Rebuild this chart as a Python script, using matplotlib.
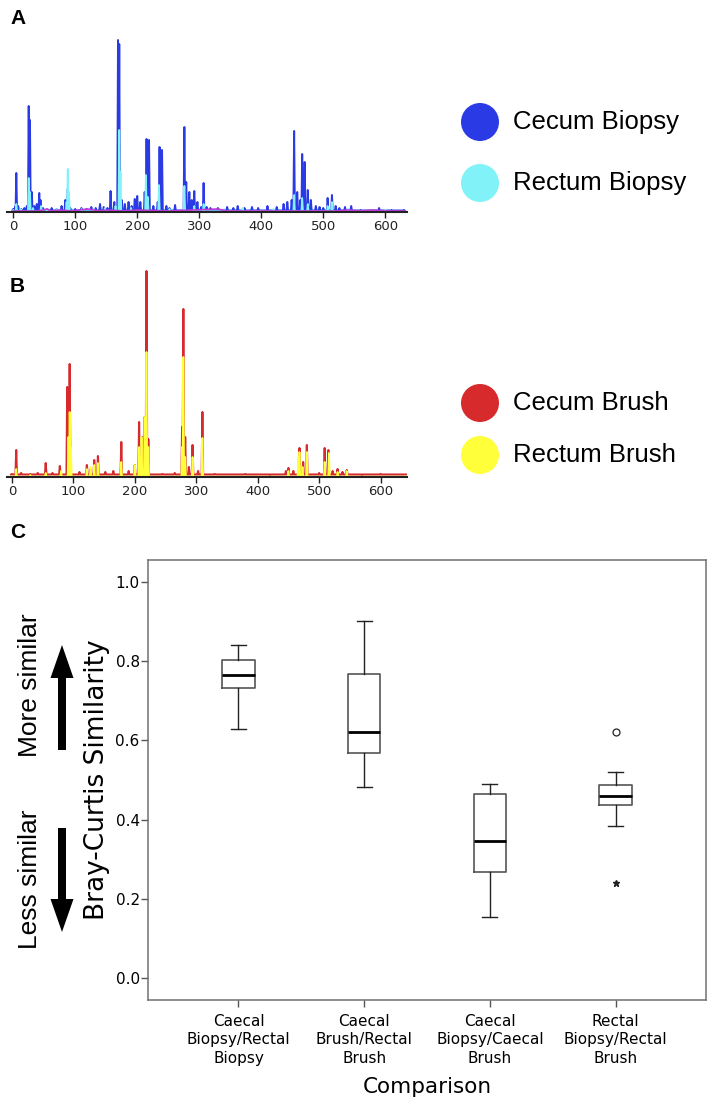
import matplotlib.pyplot as plt
from matplotlib.patches import Circle, FancyArrow

# ---------------- panel A : biopsy profiles (peak position, peak height) ----------------
cecum_biopsy_pos = [0, 3, 5, 8, 13, 18, 22, 25, 27, 30, 34, 38, 42, 44, 48, 55, 62, 70, 78, 84, 88,
                    92, 100, 110, 118, 126, 133, 140, 146, 152, 157, 163, 169, 171, 175, 180, 186,
                    191, 196, 200, 205, 212, 215, 219, 226, 233, 236, 240, 247, 252, 261, 276, 279,
                    284, 288, 292, 297, 303, 307, 312, 318, 330, 345, 355, 362, 373, 385, 395, 410,
                    425, 436, 442, 449, 453, 458, 463, 466, 470, 475, 480, 488, 494, 500, 507, 514,
                    520, 526, 535, 545, 560, 590, 610, 630]
cecum_biopsy_h = [3, 5, 39, 6, 3, 4, 6, 106, 92, 20, 6, 8, 19, 12, 4, 3, 4, 3, 6, 12, 23,
                  4, 3, 4, 3, 5, 4, 8, 5, 4, 21, 10, 172, 168, 12, 8, 10,
                  6, 13, 16, 10, 20, 73, 72, 6, 10, 65, 62, 6, 4, 7, 85, 30,
                  20, 12, 21, 10, 5, 29, 5, 4, 4, 5, 4, 6, 4, 5, 4, 6,
                  5, 8, 10, 12, 81, 20, 12, 58, 50, 22, 12, 6, 5, 4, 14, 17,
                  6, 4, 5, 6, 2, 4, 2, 2]
rectum_biopsy_pos = [0, 5, 12, 25, 27, 32, 45, 55, 70, 86, 88, 90, 110, 130, 148, 165, 171, 173,
                     190, 214, 217, 235, 252, 276, 292, 307, 340, 370, 420, 453, 466, 475, 507,
                     514, 540, 600]
rectum_biopsy_h = [2, 8, 3, 34, 20, 4, 6, 3, 3, 10, 43, 20, 3, 3, 4, 6, 82, 40,
                   4, 37, 15, 27, 3, 26, 6, 8, 3, 4, 3, 17, 14, 8, 6,
                   10, 3, 2]
other_biopsy_x = [0, 40, 55, 60, 75, 95, 120, 140, 150, 180, 200, 250, 330, 345, 420, 520, 540,
                  560, 580, 600, 630]
other_biopsy_h = [1, 1, 3, 1, 2, 1, 3, 1, 2, 1, 2, 1, 3, 1, 1, 1, 2, 1, 2, 1, 1]
biopsy_names = ['Cecum Biopsy', 'Rectum Biopsy']

# ---------------- panel B : brush profiles ----------------
cecum_brush_pos = [0, 7, 15, 30, 42, 55, 66, 78, 90, 92, 94, 110, 122, 128, 134, 140, 152, 165,
                   178, 190, 200, 207, 212, 216, 219, 222, 245, 265, 277, 279, 282, 288, 294,
                   303, 310, 330, 380, 420, 446, 450, 458, 468, 474, 480, 500, 509, 515, 522,
                   530, 538, 545, 570, 600, 640]
cecum_brush_h = [3, 27, 4, 3, 4, 14, 4, 11, 90, 60, 113, 5, 12, 8, 17, 21, 5, 6,
                 35, 6, 12, 55, 40, 60, 206, 38, 3, 4, 50, 168, 40, 10, 32,
                 6, 65, 3, 3, 2, 6, 9, 6, 29, 15, 32, 4, 29, 27, 6,
                 8, 5, 7, 2, 3, 2]
rectum_brush_pos = [0, 7, 30, 55, 80, 92, 94, 96, 122, 128, 134, 140, 178, 200, 207, 211, 216,
                    219, 222, 277, 279, 282, 294, 310, 450, 466, 468, 473, 480, 509, 516, 530,
                    545, 640]
rectum_brush_h = [1, 8, 2, 4, 6, 40, 65, 30, 8, 10, 12, 14, 15, 12, 30, 40, 60,
                  125, 30, 30, 120, 20, 20, 39, 6, 20, 25, 10, 25, 15, 24, 5,
                  6, 1]
brush_names = ['Cecum Brush', 'Rectum Brush']

# ---------------- panel C : Bray-Curtis similarity ----------------
comparisons = ['Caecal\nBiopsy/Rectal\nBiopsy', 'Caecal\nBrush/Rectal\nBrush',
               'Caecal\nBiopsy/Caecal\nBrush', 'Rectal\nBiopsy/Rectal\nBrush']
med = [0.765, 0.621, 0.347, 0.460]
q1 = [0.732, 0.568, 0.267, 0.437]
q3 = [0.803, 0.768, 0.465, 0.487]
whislo = [0.629, 0.483, 0.155, 0.383]
whishi = [0.841, 0.902, 0.490, 0.520]
outlier_pos = [4]
outlier_val = [0.621]
extreme_pos = [4]
extreme_val = [0.240]


def spikes(pos, h, base=1.5, w=1.2):
    xs, ys = [], []
    for p, v in zip(pos, h):
        xs += [p - w, p, p + w]
        ys += [base, v, base]
    return xs, ys


W, H = 713, 1113
fig = plt.figure(figsize=(W / 100, H / 100), dpi=100)

def px_axes(l, t, r, b):
    return fig.add_axes([l / W, 1 - b / H, (r - l) / W, (b - t) / H])

blue = '#2a3be6'
cyan = '#80f2f8'
red = '#d62a2c'
yellow = '#ffff3a'

# panel A
axA = px_axes(7, 38, 407, 212)
x, y = spikes(cecum_biopsy_pos, cecum_biopsy_h)
axA.plot(x, y, color=blue, lw=1.4)
x, y = spikes(rectum_biopsy_pos, rectum_biopsy_h, base=0.8)
axA.plot(x, y, color=cyan, lw=1.3)
axA.plot(other_biopsy_x, other_biopsy_h, color='#c03ad8', lw=1.2)
axA.set_xlim(-10, 635)
axA.set_ylim(0, 174)

# panel B
axB = px_axes(7, 268, 407, 477)
x, y = spikes(cecum_brush_pos, cecum_brush_h, base=2.5)
axB.plot(x, y, color=red, lw=1.5)
x, y = spikes(rectum_brush_pos, rectum_brush_h, base=0.3)
axB.plot(x, y, color=yellow, lw=1.3)
axB.set_xlim(-8, 643)
axB.set_ylim(0, 209)

for ax in (axA, axB):
    for s in ('top', 'right', 'left'):
        ax.spines[s].set_visible(False)
    ax.spines['bottom'].set_linewidth(1.5)
    ax.spines['bottom'].set_color('#222222')
    ax.set_yticks([])
    ax.set_xticks([0, 100, 200, 300, 400, 500, 600])
    ax.tick_params(axis='x', length=4, width=1, labelsize=9.5, pad=2, colors='#222222')
    ax.patch.set_alpha(0)

# panel C
axC = px_axes(148, 560, 706, 1000)
stats = []
for i in range(len(comparisons)):
    stats.append(dict(med=med[i], q1=q1[i], q3=q3[i], whislo=whislo[i], whishi=whishi[i],
                      fliers=[]))
axC.bxp(stats, positions=[1, 2, 3, 4], widths=0.255, capwidths=0.12, patch_artist=False,
        boxprops=dict(color='#555555', lw=1.2),
        medianprops=dict(color='black', lw=2),
        whiskerprops=dict(color='#222222', lw=1),
        capprops=dict(color='#222222', lw=1))
axC.plot(outlier_pos, outlier_val, 'o', mfc='none', mec='#222222', ms=5, mew=0.9)
axC.plot(extreme_pos, extreme_val, '*', color='#222222', ms=5)
axC.set_xlim(0.28, 4.72)
axC.set_ylim(-0.055, 1.055)
axC.set_yticks([0.0, 0.2, 0.4, 0.6, 0.8, 1.0])
axC.set_yticklabels(['0.0', '0.2', '0.4', '0.6', '0.8', '1.0'])
axC.set_xticks([1, 2, 3, 4])
axC.set_xticklabels(comparisons, linespacing=1.3)
axC.tick_params(axis='y', length=5, width=1, labelsize=11, pad=1, color='#555555')
axC.tick_params(axis='x', length=5, width=1, labelsize=11, pad=5, color='#555555')
for s in axC.spines.values():
    s.set_color('#707070')
    s.set_linewidth(1.1)
axC.set_xlabel('Comparison', fontsize=15.5, labelpad=8)
axC.set_ylabel('Bray-Curtis Similarity', fontsize=19, labelpad=4)

# overlay in pixel coordinates for legends, panel letters and arrows
ov = fig.add_axes([0, 0, 1, 1])
ov.set_xlim(0, W)
ov.set_ylim(H, 0)
ov.axis('off')
ov.patch.set_alpha(0)

for name, col, yy in [(biopsy_names[0], blue, 122), (biopsy_names[1], cyan, 183),
                      (brush_names[0], red, 403), (brush_names[1], yellow, 455)]:
    ov.add_patch(Circle((480, yy), 19, color=col, lw=0))
    ov.text(513, yy, name, fontsize=18.5, family='Liberation Sans', va='center', ha='left')

for lab, yy in [('A', 18), ('B', 287), ('C', 533)]:
    ov.text(10, yy, lab, fontsize=15, fontweight='bold', family='Liberation Sans',
            va='center', ha='left')

ov.add_patch(FancyArrow(62, 750, 0, -105, width=8, head_width=23, head_length=33,
                        length_includes_head=True, color='black', lw=0))
ov.add_patch(FancyArrow(62, 828, 0, 104, width=8, head_width=23, head_length=33,
                        length_includes_head=True, color='black', lw=0))
ov.text(30, 685, 'More similar', rotation=90, fontsize=19, family='Liberation Sans',
        va='center', ha='center')
ov.text(30, 879, 'Less similar', rotation=90, fontsize=19, family='Liberation Sans',
        va='center', ha='center')

fig.savefig('out.png', dpi=100)
